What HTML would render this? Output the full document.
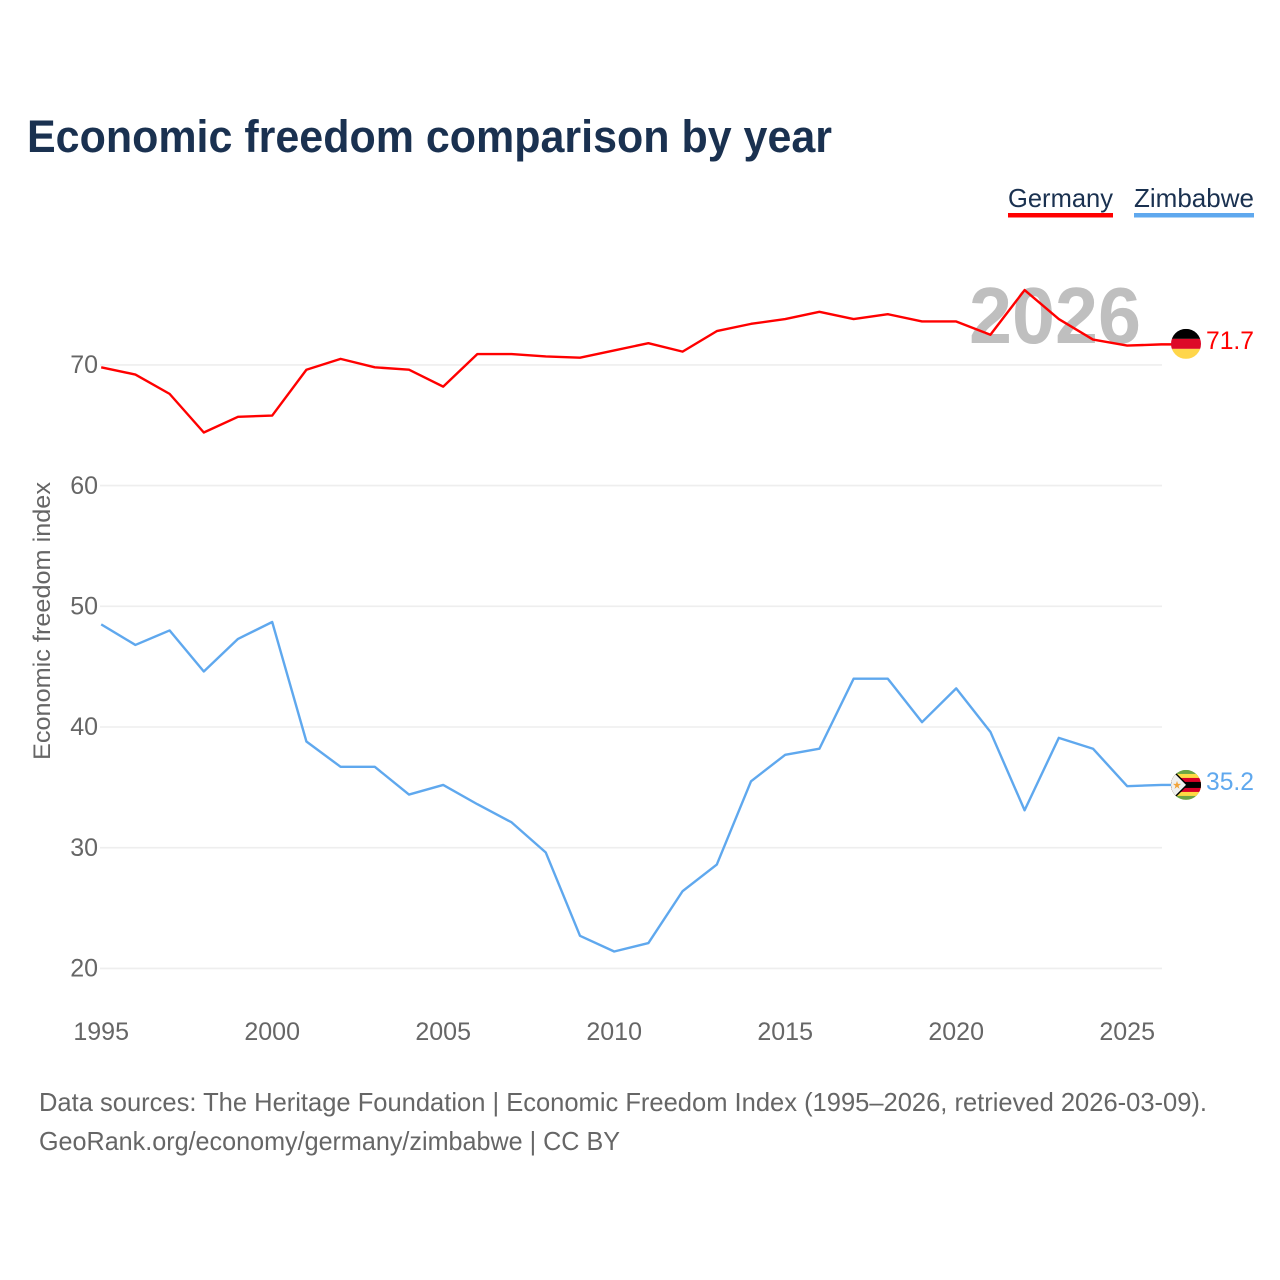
<!DOCTYPE html>
<html lang="en">
<head>
<meta charset="utf-8">
<title>Economic freedom comparison by year</title>
<style>
html,body{margin:0;padding:0;background:#fff;width:1280px;height:1280px;overflow:hidden}
svg{display:block}
text{font-family:"Liberation Sans",sans-serif}
</style>
</head>
<body>
<svg id="chart" width="1280" height="1280" viewBox="0 0 1280 1280" xmlns="http://www.w3.org/2000/svg">
  <defs>
    <clipPath id="clip-de"><circle cx="0" cy="0" r="15"/></clipPath>
    <clipPath id="clip-zw"><circle cx="0" cy="0" r="15"/></clipPath>
  </defs>
  <rect width="1280" height="1280" fill="#fff"/>
  <text x="27" y="152" font-size="45" font-weight="700" fill="#1a3150" textLength="805" lengthAdjust="spacingAndGlyphs">Economic freedom comparison by year</text>
  <g>
    <g>
      <text x="1008" y="207" font-size="26" fill="#1a3150" textLength="105" lengthAdjust="spacingAndGlyphs">Germany</text>
      <rect x="1008" y="213" width="105" height="4.5" fill="#ff0000"/>
    </g>
    <g>
      <text x="1134" y="207" font-size="26" fill="#1a3150" textLength="120" lengthAdjust="spacingAndGlyphs">Zimbabwe</text>
      <rect x="1134" y="213" width="120" height="4.5" fill="#5fa8ee"/>
    </g>
  </g>
  <g id="grid"></g>
  <text x="969" y="343" font-size="80" font-weight="700" fill="#bfbfbf" textLength="172" lengthAdjust="spacingAndGlyphs">2026</text>
  <g id="y-ticks"></g>
  <g id="x-ticks"></g>
  <text transform="translate(50 621) rotate(-90)" text-anchor="middle" font-size="24" fill="#666" textLength="278" lengthAdjust="spacingAndGlyphs">Economic freedom index</text>
  <g id="series"></g>
  <g id="flag-de" clip-path="url(#clip-de)">
    <rect x="-15" y="-15" width="30" height="10" fill="#000"/>
    <rect x="-15" y="-5" width="30" height="10" fill="#dd0a28"/>
    <rect x="-15" y="5" width="30" height="10" fill="#ffd64a"/>
  </g>
  <g id="flag-zw" clip-path="url(#clip-zw)">
    <rect x="-15" y="-15" width="30" height="30" fill="#6da544"/>
    <rect x="-15" y="-11" width="30" height="22" fill="#ffda44"/>
    <rect x="-15" y="-7" width="30" height="14" fill="#d80027"/>
    <rect x="-15" y="-3" width="30" height="6" fill="#000"/>
    <path d="M-15,-17 L2,0 L-15,17 Z" fill="#000"/>
    <path d="M-15,-15 L0,0 L-15,15 Z" fill="#f0f0f0"/>
    <path d="M-9,-4 L-8,-1 L-5,-1 L-7.5,1 L-6.5,4 L-9,2 L-11.5,4 L-10.5,1 L-13,-1 L-10,-1 Z" fill="#f2a33a"/>
  </g>
  <text id="value-de" x="1206" y="349" font-size="25" fill="#ff0000" textLength="48" lengthAdjust="spacingAndGlyphs"></text>
  <text id="value-zw" x="1206" y="790" font-size="25" fill="#5fa8ee" textLength="48" lengthAdjust="spacingAndGlyphs"></text>
  <g>
    <text x="39" y="1111" font-size="26" fill="#666" textLength="1168" lengthAdjust="spacingAndGlyphs">Data sources: The Heritage Foundation | Economic Freedom Index (1995–2026, retrieved 2026-03-09).</text>
    <text x="39" y="1150" font-size="26" fill="#666" textLength="581" lengthAdjust="spacingAndGlyphs">GeoRank.org/economy/germany/zimbabwe | CC BY</text>
  </g>
</svg>
<script>
const years = [1995,1996,1997,1998,1999,2000,2001,2002,2003,2004,2005,2006,2007,2008,2009,2010,2011,2012,2013,2014,2015,2016,2017,2018,2019,2020,2021,2022,2023,2024,2025,2026];
const germany = [69.8,69.2,67.6,64.4,65.7,65.8,69.6,70.5,69.8,69.6,68.2,70.9,70.9,70.7,70.6,71.2,71.8,71.1,72.8,73.4,73.8,74.4,73.8,74.2,73.6,73.6,72.5,76.2,73.8,72.1,71.6,71.7];
const zimbabwe = [48.5,46.8,48.0,44.6,47.3,48.7,38.8,36.7,36.7,34.4,35.2,33.6,32.1,29.6,22.7,21.4,22.1,26.4,28.6,35.5,37.7,38.2,44.0,44.0,40.4,43.2,39.6,33.1,39.1,38.2,35.1,35.2];
const yTickValues = [20,30,40,50,60,70];
const xTickValues = [1995,2000,2005,2010,2015,2020,2025];

const NS = 'http://www.w3.org/2000/svg';
function xScale(year){ return 101.2 + (year - 1995) * 34.2; }
function yScale(v){ return 364.9 + (70 - v) * 12.07; }
function svgEl(tag, parent){
  const el = document.createElementNS(NS, tag);
  parent.appendChild(el);
  return el;
}

const grid = document.getElementById('grid');
const yTicks = document.getElementById('y-ticks');
yTickValues.forEach(function(v){
  const line = svgEl('line', grid);
  
  
  line.setAttribute('x1', 100);
  line.setAttribute('x2', 1162);
  line.setAttribute('y1', yScale(v));
  line.setAttribute('y2', yScale(v));
  line.setAttribute('stroke', '#eeeeee');
  line.setAttribute('stroke-width', 1.6);
  const label = svgEl('text', yTicks);
  
  
  label.setAttribute('x', 98);
  label.setAttribute('y', yScale(v) + 8.2);
  label.setAttribute('text-anchor', 'end');
  label.setAttribute('font-size', 25);
  label.setAttribute('fill', '#666');
  label.textContent = v;
});

const xTicks = document.getElementById('x-ticks');
xTickValues.forEach(function(year){
  const label = svgEl('text', xTicks);
  
  
  label.setAttribute('x', xScale(year));
  label.setAttribute('y', 1040);
  label.setAttribute('text-anchor', 'middle');
  label.setAttribute('font-size', 25);
  label.setAttribute('fill', '#666');
  label.textContent = year;
});

const seriesGroup = document.getElementById('series');
function pointsFor(values){
  return values.map(function(v, i){ return xScale(years[i]) + ',' + yScale(v); }).join(' ');
}
const lineGermany = svgEl('polyline', seriesGroup);


lineGermany.setAttribute('points', pointsFor(germany) + ' 1172,' + yScale(germany[germany.length - 1]));
lineGermany.setAttribute('fill', 'none');
lineGermany.setAttribute('stroke', '#ff0000');
lineGermany.setAttribute('stroke-width', 2.4);
lineGermany.setAttribute('stroke-linejoin', 'round');

const lineZimbabwe = svgEl('polyline', seriesGroup);


lineZimbabwe.setAttribute('points', pointsFor(zimbabwe) + ' 1172,' + yScale(zimbabwe[zimbabwe.length - 1]));
lineZimbabwe.setAttribute('fill', 'none');
lineZimbabwe.setAttribute('stroke', '#5fa8ee');
lineZimbabwe.setAttribute('stroke-width', 2.4);
lineZimbabwe.setAttribute('stroke-linejoin', 'round');

const lastDe = germany[germany.length - 1];
const lastZw = zimbabwe[zimbabwe.length - 1];
document.getElementById('flag-de').setAttribute('transform', 'translate(1186 ' + (yScale(lastDe) - 0.5) + ')');
document.getElementById('flag-zw').setAttribute('transform', 'translate(1186 ' + yScale(lastZw) + ')');
const valueDe = document.getElementById('value-de');
valueDe.textContent = lastDe.toFixed(1);
valueDe.setAttribute('y', yScale(lastDe) + 4.7);
const valueZw = document.getElementById('value-zw');
valueZw.textContent = lastZw.toFixed(1);
valueZw.setAttribute('y', yScale(lastZw) + 5);
</script>
</body>
</html>
